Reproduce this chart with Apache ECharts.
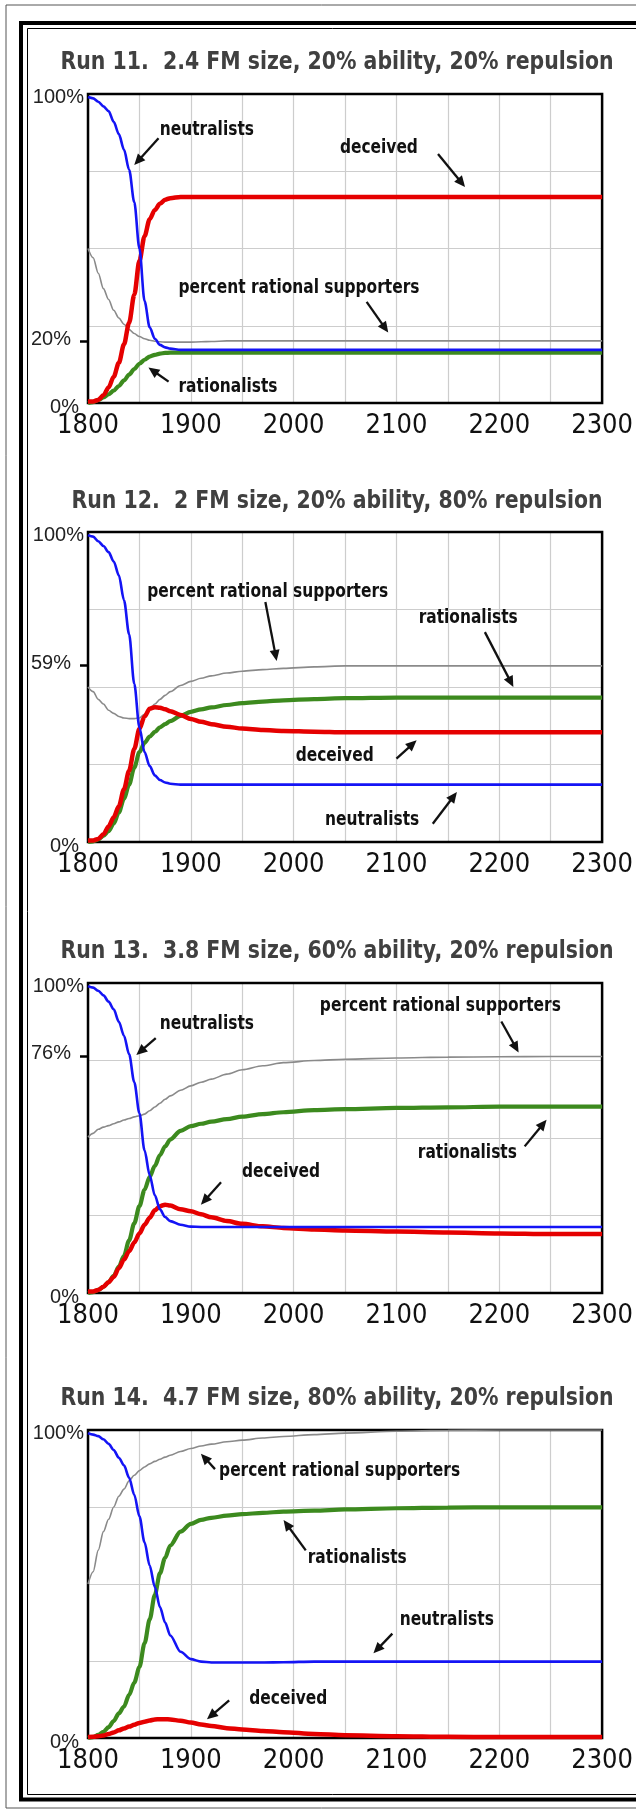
<!DOCTYPE html>
<html><head><meta charset="utf-8">
<script src="https://cdn.jsdelivr.net/npm/echarts@6/dist/echarts.min.js"></script>
<style>html,body{margin:0;padding:0;background:#fff}#c{width:636px;height:1811px}</style>
</head><body><div id="c"></div>
<script>
// ---------- DATA ----------
const years = [1800,1805,1810,1815,1820,1825,1830,1835,1840,1845,1850,1855,1860,1865,1870,1875,1880,1890,1900,1910,1920,1935,1950,1970,1990,2020,2050,2100,2150,2200,2250,2300];

const runTitles = [
  'Run 11.  2.4 FM size, 20% ability, 20% repulsion',
  'Run 12.  2 FM size, 20% ability, 80% repulsion',
  'Run 13.  3.8 FM size, 60% ability, 20% repulsion',
  'Run 14.  4.7 FM size, 80% ability, 20% repulsion'
];
const seriesNames = ['percent rational supporters','rationalists','deceived','neutralists'];
const xTickLabels = [1800,1900,2000,2100,2200,2300];
const specialTickValues = [20, 57, 76.5, null];
const specialTickLabels = ['20%', '59%', '76%', null];

const run11Neutralists = [99,98.6,97.5,96,94.5,91,87,82,75.5,65,50,33,24.5,20.8,18.8,18,17.6,17.2,17.2,17.2,17.2,17.2,17.2,17.2,17.2,17.2,17.2,17.2,17.2,17.2,17.2,17.2];
const run11Deceived = [0.5,0.5,1,2.5,5,8.5,13,19,26,35,46,54,59.5,62.5,64.5,65.8,66.3,66.7,66.7,66.7,66.7,66.7,66.7,66.7,66.7,66.7,66.7,66.7,66.7,66.7,66.7,66.7];
const run11Rationalists = [0,0.3,1,1.8,2.8,4,5.5,7.3,9.2,11,12.7,14,15,15.6,16,16.2,16.3,16.3,16.3,16.3,16.3,16.3,16.3,16.3,16.3,16.3,16.3,16.3,16.3,16.3,16.3,16.3];
const run11Percent = [50,47,42,37,33.5,30,27.5,25.5,23.8,22.5,21.5,20.8,20.3,20,19.8,19.7,19.7,19.7,19.7,19.8,19.9,20.1,20.1,20.1,20.1,20.1,20.1,20.1,20.1,20.1,20.1,20.1];

const run12Neutralists = [99,98.5,97,95.5,93.5,90.5,86,78,67,51,37,29,24.5,21.5,20,19.2,18.8,18.5,18.5,18.5,18.5,18.5,18.5,18.5,18.5,18.5,18.5,18.5,18.5,18.5,18.5,18.5];
const run12Deceived = [0.5,0.5,1,2.5,5,8,11.5,17,23,30,36.5,40.5,43,43.5,43.3,42.8,42.2,41,39.7,38.8,38,37.2,36.6,36.1,35.8,35.6,35.4,35.4,35.4,35.4,35.4,35.4];
const run12Rationalists = [0,0.2,0.8,2,3.5,6,9.5,14,18.5,24,29,32,34,35.5,37,38,39,40.7,42,42.8,43.4,44.2,44.8,45.3,45.7,46.1,46.4,46.6,46.6,46.6,46.6,46.6];
const run12Percent = [50,48.5,46,44.5,42.5,41.5,40.5,40,39.8,39.8,40,41.2,42.8,44.5,46,47.3,48.5,50.5,51.8,52.8,53.6,54.5,55.1,55.6,56,56.5,56.8,56.8,56.8,56.8,56.8,56.8];

const run13Neutralists = [99,98.5,97.5,96,94,91.5,87.5,83,77,68,58,46,38,31.5,27,24.5,23.2,22,21.4,21.3,21.3,21.3,21.3,21.3,21.3,21.3,21.3,21.3,21.3,21.3,21.3,21.3];
const run13Deceived = [0.5,0.5,1,2,3.5,5.2,8,10.8,13.5,16.3,19.2,22,24.3,26.7,28,28.5,28.2,27,26.4,25.4,24.4,23.2,22.3,21.5,21,20.5,20.2,19.8,19.5,19.2,19,19];
const run13Rationalists = [0,0.3,1,2,3.5,5.5,8.5,12,17,22.5,28,33.3,37.5,41,44.5,47.3,49.5,52.3,53.8,54.6,55.3,56.1,56.9,57.7,58.3,59,59.3,59.7,59.9,60.1,60.1,60.1];
const run13Percent = [50.3,51.5,52.8,53.5,54,54.6,55.2,55.8,56.3,56.8,57.2,57.7,58.8,60,61.2,62.5,63.6,65.4,66.8,68,69,70.6,72,73.3,74.3,75,75.4,75.8,76.1,76.2,76.3,76.3];

const run14Neutralists = [99,98.5,98,97,95.5,93.5,91,88.5,84.5,79,72,63.5,56,49,42.5,37.5,33.3,28,25.6,24.8,24.5,24.5,24.5,24.5,24.6,24.8,24.8,24.8,24.8,24.8,24.8,24.8];
const run14Deceived = [0.3,0.4,0.6,0.8,1.3,1.8,2.5,3.1,3.7,4.3,4.9,5.3,5.7,6,6.1,6.1,6,5.6,5,4.4,3.9,3.2,2.8,2.3,1.9,1.3,0.9,0.6,0.4,0.3,0.3,0.3];
const run14Rationalists = [0,0.3,1,2,3.5,5.5,8,10.2,14,18,23,30.7,38.5,46.5,53.5,58.5,62.5,67,69.5,70.8,71.5,72.2,72.7,73.1,73.5,73.8,74.2,74.6,74.8,74.9,74.9,74.9];
const run14Percent = [50,54,61,67,71,75,78.5,80.8,83.5,85.3,86.8,88,89,89.8,90.5,91.2,91.8,93,94,94.8,95.4,96.2,96.7,97.4,97.9,98.5,99,99.6,99.9,100,100,100];

const runs = [
  [run11Percent, run11Rationalists, run11Deceived, run11Neutralists],
  [run12Percent, run12Rationalists, run12Deceived, run12Neutralists],
  [run13Percent, run13Rationalists, run13Deceived, run13Neutralists],
  [run14Percent, run14Rationalists, run14Deceived, run14Neutralists]
];

// ---------- LAYOUT / STYLE ----------
const gridBoxes = [
  {top: 94, height: 309},
  {top: 532, height: 310},
  {top: 983, height: 310},
  {top: 1430, height: 308}
];
const titleCenters = [62.5, 501.5, 951.5, 1398.5];
const seriesStyle = [
  {color: '#8a8a8a', width: 1.6},
  {color: '#3c8a1e', width: 4.2},
  {color: '#e50000', width: 4.5},
  {color: '#1414f5', width: 2.6}
];
// annotation layout, in each chart's data space: text left-middle, arrow from -> to
const annotations = [
  [
    {text: 'neutralists', at: [1869.8, 88.4], from: [1868.6, 85.7], to: [1845, 77]},
    {text: 'deceived', at: [2045, 82.5], from: [2140.4, 80.6], to: [2166.7, 69.9]},
    {text: 'percent rational supporters', at: [1888, 37.3], from: [2071, 32.7], to: [2092, 22.8]},
    {text: 'rationalists', at: [1888, 5.1], from: [1878.4, 6.9], to: [1858.8, 11.5]}
  ],
  [
    {text: 'percent rational supporters', at: [1857.6, 80.6], from: [1972.5, 77.4], to: [1983.5, 58.4]},
    {text: 'rationalists', at: [2121.6, 72.3], from: [2186, 67.7], to: [2213.7, 50]},
    {text: 'deceived', at: [2002, 27.6], from: [2100, 26.9], to: [2119.6, 32.8]},
    {text: 'neutralists', at: [2030.6, 7], from: [2135.3, 5.9], to: [2158.8, 16.1]}
  ],
  [
    {text: 'neutralists', at: [1869.8, 86.8], from: [1865.9, 82.2], to: [1847, 76.8]},
    {text: 'percent rational supporters', at: [2025.5, 92.5], from: [2202, 87.6], to: [2218.8, 77.6]},
    {text: 'rationalists', at: [2120.8, 45.2], from: [2224.7, 47.3], to: [2246, 55.9]},
    {text: 'deceived', at: [1949.8, 38.9], from: [1929.4, 35.7], to: [1909.8, 28.5]}
  ],
  [
    {text: 'percent rational supporters', at: [1927.5, 86.7], from: [1923.5, 87.3], to: [1909.8, 92.3]},
    {text: 'rationalists', at: [2013.7, 58.4], from: [2011.8, 60.9], to: [1990.2, 70.8]},
    {text: 'neutralists', at: [2103.1, 38.3], from: [2096, 33.9], to: [2077.6, 27.5]},
    {text: 'deceived', at: [1956.9, 12.6], from: [1937.3, 12.2], to: [1915.7, 6.1]}
  ]
];

const chart = echarts.init(document.getElementById('c'), null, {renderer: 'canvas'});
const XFONT = '"Liberation Sans Narrow","DejaVu Sans Condensed","Liberation Sans",sans-serif';
const YFONT = '"Liberation Sans",Arial,sans-serif';
const BOLDFONT = '"DejaVu Sans",sans-serif';

const grids = [], xAxes = [], yAxes = [], series = [];
gridBoxes.forEach((b, g) => {
  grids.push({left: 88, right: 29, top: b.top, height: b.height, show: true,
    borderColor: '#000', borderWidth: 2.5, backgroundColor: 'transparent', z: 1});
  xAxes.push({type: 'value', gridIndex: g, min: 1800, max: 2300, interval: 50,
    axisLine: {show: false}, axisTick: {show: false},
    splitLine: {show: true, lineStyle: {color: '#cdcdcd', width: 1.2}},
    axisLabel: {show: true, margin: 9, fontSize: 27, fontFamily: XFONT, color: '#111',
      showMinLabel: true, showMaxLabel: true,
      formatter: v => (xTickLabels.indexOf(v) >= 0 ? String(v) : '')}});
  yAxes.push({type: 'value', gridIndex: g, min: 0, max: 100, interval: 25,
    axisLine: {show: false}, axisTick: {show: false}, axisLabel: {show: false},
    splitLine: {show: true, lineStyle: {color: '#cdcdcd', width: 1.2}}});
  const sv = specialTickValues[g];
  const labelVals = sv === null ? [0, 100] : [0, sv, 100];
  yAxes.push({type: 'value', gridIndex: g, min: 0, max: 100, position: 'left',
    axisLine: {show: false}, splitLine: {show: false},
    axisTick: sv === null ? {show: false} : {show: true, customValues: [sv], length: 8,
      lineStyle: {color: '#000', width: 2.5}},
    axisLabel: {show: true, margin: 4, customValues: labelVals,
      formatter: v => v === 100 ? '{t|100%}' : (v === 0 ? '{b|0%}' : '{m|' + specialTickLabels[g] + '}'),
      rich: {
        t: {fontSize: 20, fontFamily: YFONT, color: '#222', padding: [6, 0, 0, 0]},
        b: {fontSize: 20, fontFamily: YFONT, color: '#222', padding: [8, 5, 0, 0]},
        m: {fontSize: 20, fontFamily: YFONT, color: '#222', padding: [0, 13, 4, 0]}
      }}});
  runs[g].forEach((arr, k) => {
    series.push({type: 'line', name: seriesNames[k], xAxisIndex: g, yAxisIndex: 2 * g,
      data: years.map((y, i) => [y, arr[i]]), showSymbol: false, smooth: 0.3,
      smoothMonotone: 'x', clip: true, z: 3 + k,
      lineStyle: {color: seriesStyle[k].color, width: seriesStyle[k].width}});
  });
});

chart.setOption({animation: false, backgroundColor: '#fff',
  grid: grids, xAxis: xAxes, yAxis: yAxes, series: series});

// ---------- graphics: frame, titles, annotations ----------
const mctx = document.createElement('canvas').getContext('2d');
function measure(str, size) { mctx.font = 'bold ' + size + 'px "DejaVu Sans"'; return mctx.measureText(str).width; }
const TITLE_SIZE = 25, ANN_SIZE = 19;
const titleScale = 553 / measure(runTitles[0], TITLE_SIZE);
const annScale = 241 / measure('percent rational supporters', ANN_SIZE);

const gfx = [
  {type: 'rect', shape: {x: 6, y: 5, width: 660, height: 1803}, style: {fill: 'none', stroke: '#555', lineWidth: 1}, z: 0},
  {type: 'rect', shape: {x: 21, y: 23, width: 660, height: 1776.5}, style: {fill: 'none', stroke: '#000', lineWidth: 4}, z: 0},
  {type: 'rect', shape: {x: 27.5, y: 28.5, width: 660, height: 1766}, style: {fill: 'none', stroke: '#000', lineWidth: 1}, z: 0}
];
runTitles.forEach((t, g) => {
  gfx.push({type: 'text', x: 337, y: titleCenters[g], scaleX: titleScale, z: 10,
    style: {text: t, fontSize: TITLE_SIZE, fontWeight: 'bold', fontFamily: BOLDFONT,
      fill: '#404040', align: 'center', verticalAlign: 'middle'}});
});
annotations.forEach((list, g) => {
  list.forEach(a => {
    const p = chart.convertToPixel({gridIndex: g}, a.at);
    const f = chart.convertToPixel({gridIndex: g}, a.from);
    const e = chart.convertToPixel({gridIndex: g}, a.to);
    gfx.push({type: 'text', x: p[0], y: p[1], scaleX: annScale, z: 20,
      style: {text: a.text, fontSize: ANN_SIZE, fontWeight: 'bold', fontFamily: BOLDFONT,
        fill: '#111', align: 'left', verticalAlign: 'middle'}});
    const dx = e[0] - f[0], dy = e[1] - f[1], L = Math.sqrt(dx * dx + dy * dy);
    const ux = dx / L, uy = dy / L, hl = 11, hw = 5;
    const bx = e[0] - ux * hl, by = e[1] - uy * hl;
    gfx.push({type: 'line', z: 20, shape: {x1: f[0], y1: f[1], x2: bx + ux * 1, y2: by + uy * 1},
      style: {stroke: '#111', lineWidth: 2.3}});
    gfx.push({type: 'polygon', z: 20, shape: {points: [[e[0], e[1]], [bx - uy * hw, by + ux * hw], [bx + uy * hw, by - ux * hw]]},
      style: {fill: '#111'}});
  });
});
chart.setOption({graphic: gfx});
</script>
</body></html>
